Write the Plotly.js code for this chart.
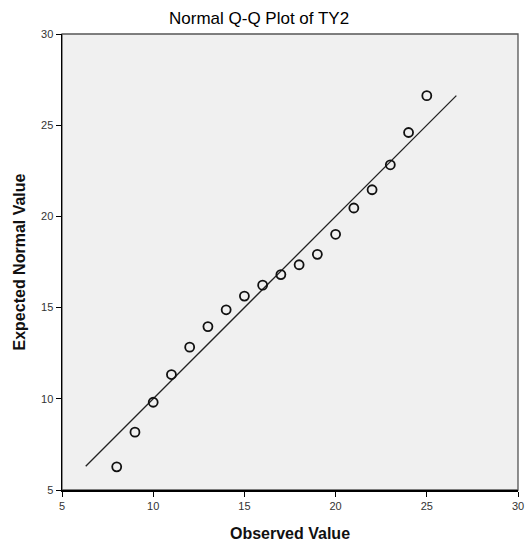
<!DOCTYPE html>
<html>
<head>
<meta charset="utf-8">
<script src="https://cdn.plot.ly/plotly-3.0.1.min.js"></script>
<style>html,body{margin:0;padding:0;background:#fff;}#chart{width:532px;height:550px;}</style>
</head>
<body>
<div id="chart"></div>
<script>
var observed = [8, 9, 10, 11, 12, 13, 14, 15, 16, 17, 18, 19, 20, 21, 22, 23, 24, 25];
var expected = [6.27, 8.17, 9.81, 11.33, 12.83, 13.96, 14.88, 15.63, 16.23, 16.81, 17.35, 17.92, 19.02, 20.46, 21.46, 22.83, 24.6, 26.62];
var refLine = [6.3, 26.62];
var tickVals = [5, 10, 15, 20, 25, 30];

var traces = [
  {x: refLine, y: refLine, mode: 'lines', type: 'scatter',
   line: {color: '#222', width: 1.3}, hoverinfo: 'skip'},
  {x: observed, y: expected, mode: 'markers', type: 'scatter',
   marker: {symbol: 'circle-open', size: 9, color: '#111', line: {width: 1.8, color: '#111'}}}
];

var axisCommon = {
  range: [5, 30], tickvals: tickVals, ticks: 'outside', ticklen: 5, tickwidth: 1,
  tickcolor: '#000', showgrid: false, zeroline: false, showline: true,
  linecolor: '#000', linewidth: 1.5, mirror: false,
  tickfont: {family: 'Liberation Sans, Arial, sans-serif', size: 11, color: '#333'}
};

var layout = {
  width: 532, height: 550,
  margin: {l: 62, r: 14, t: 34, b: 60},
  paper_bgcolor: '#ffffff', plot_bgcolor: '#f0f0f0',
  showlegend: false,
  title: {text: 'Normal Q-Q Plot of TY2', x: 0.487, xanchor: 'center', y: 0.967, yanchor: 'middle',
          font: {family: 'Liberation Sans, Arial, sans-serif', size: 17, color: '#000'}},
  xaxis: Object.assign({}, axisCommon, {
    title: {text: '<b>Observed Value</b>', standoff: 17,
            font: {family: 'Liberation Sans, Arial, sans-serif', size: 16, color: '#111'}}
  }),
  yaxis: Object.assign({}, axisCommon, {
    title: {text: '<b>Expected Normal Value</b>', standoff: 11,
            font: {family: 'Liberation Sans, Arial, sans-serif', size: 16, color: '#111'}}
  }),
  shapes: [
    {type: 'rect', xref: 'paper', yref: 'paper', x0: 0, x1: 1, y0: 0, y1: 1,
     line: {color: '#555', width: 1.3}, fillcolor: 'rgba(0,0,0,0)', layer: 'below'}
  ]
};

Plotly.newPlot('chart', traces, layout, {staticPlot: true, displayModeBar: false});
</script>
</body>
</html>
